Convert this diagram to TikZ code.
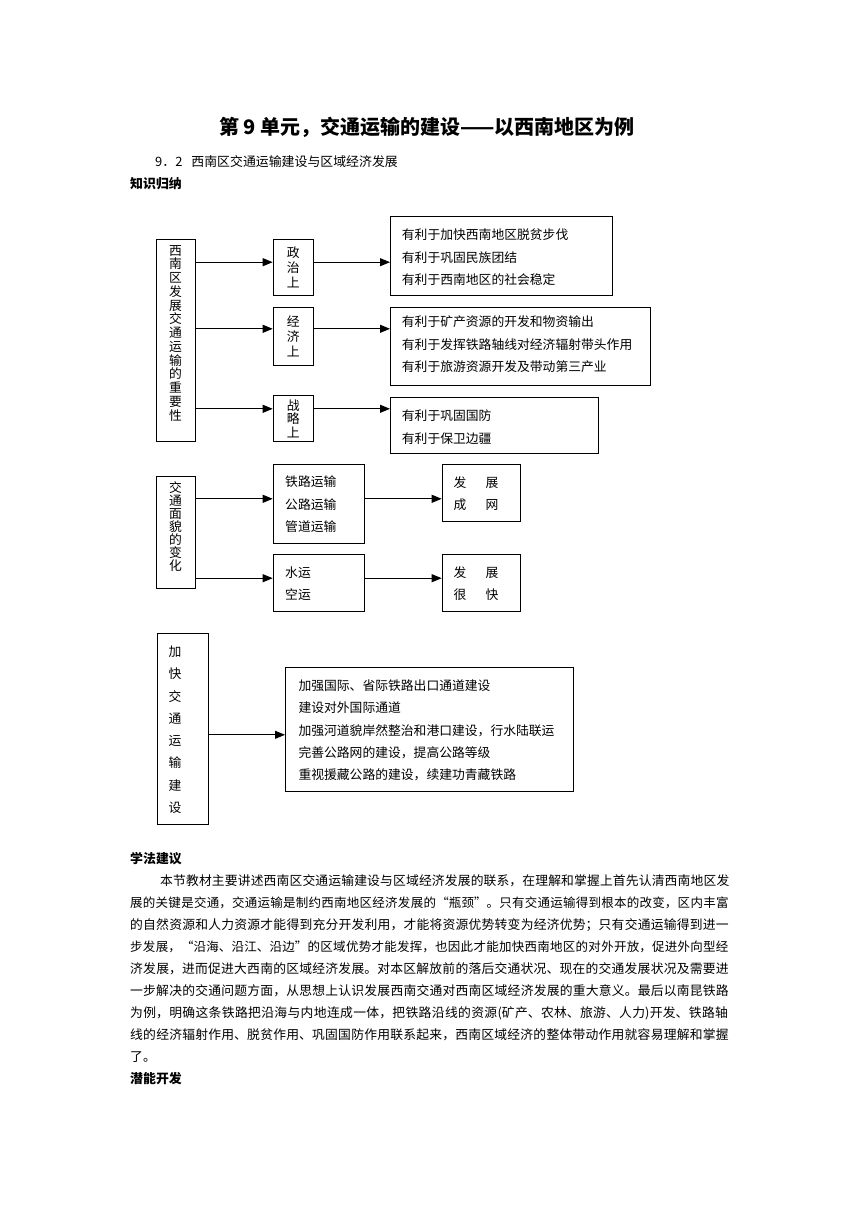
\documentclass[tikz,border=0pt]{standalone}
\usepackage{fontspec}
\setmainfont{Noto Sans CJK SC}
\usetikzlibrary{arrows.meta}
\XeTeXlinebreaklocale "zh"
\XeTeXlinebreakskip=0pt plus 4pt minus 1.2pt
\newcommand{\fz}[2]{\fontsize{#1}{#2}\selectfont}
\newcommand{\jl}[1]{\parindent=0pt\parfillskip=0pt\tolerance=10000\relax #1\par}
\begin{document}
\begin{tikzpicture}[x=1pt,y=-1pt,
  box/.style={draw, line width=1pt, anchor=north west, inner sep=0pt},
  arr/.style={draw, line width=1pt, -{Triangle[length=10pt,width=8pt]}},
  bt/.style={anchor=west, inner sep=0pt, align=left, font=\fz{12.8}{22.5}},
  vt/.style={inner sep=0pt, align=center, font=\fz{12.8}{15}},
  pl/.style={anchor=west, inner sep=0pt, text width=600pt, font=\fz{12.8}{15}},
  hd/.style={anchor=west, inner sep=0pt, font=\bfseries\fz{12.9}{15}},
]
\useasboundingbox (0,0) rectangle (860,1216);
\fill[white] (0,0) rectangle (860,1216);

% headings
\node[inner sep=0pt, font=\bfseries\fz{20}{24}] (title) at (427,127.5) {第 9 单元，交通运输的建设——以西南地区为例};
\node[anchor=west, inner sep=0pt, font=\fz{12.9}{15}] (sub) at (155,161.7) {9．2\hspace{9pt}西南区交通运输建设与区域经济发展};
\node[hd] (h1) at (130,183.3) {知识归纳};

% diagram 1
\node[box, minimum width=39pt, minimum height=201.7pt] (L1) at (156,239.3) {};
\node[vt, font=\fz{12.8}{13.75}] (L1t) at (175.5,333.2) {西\\南\\区\\发\\展\\交\\通\\运\\输\\的\\重\\要\\性};

\node[box, minimum width=40pt, minimum height=55.7pt] (s1) at (272.7,239.3) {};
\node[vt] (s1t) at (s1.center) {政\\治\\上};
\node[box, minimum width=40pt, minimum height=58.3pt] (s2) at (272.7,306.7) {};
\node[vt] (s2t) at (s2.center) {经\\济\\上};
\node[box, minimum width=40pt, minimum height=46pt] (s3) at (272.7,395) {};
\node[vt, font=\fz{12.8}{13.5}] (s3t) at (s3.center) {战\\略\\上};

\node[box, minimum width=221.7pt, minimum height=79pt] (b1) at (390,216) {};
\node[bt] (b1t) at (401.7,257.5) {有利于加快西南地区脱贫步伐\\有利于巩固民族团结\\有利于西南地区的社会稳定};
\node[box, minimum width=260pt, minimum height=78.3pt] (b2) at (390,306.7) {};
\node[bt] (b2t) at (401.7,344.5) {有利于矿产资源的开发和物资输出\\有利于发挥铁路轴线对经济辐射带头作用\\有利于旅游资源开发及带动第三产业};
\node[box, minimum width=208pt, minimum height=56.3pt] (b3) at (390,396.7) {};
\node[bt, font=\fz{12.8}{23}] (b3t) at (401.7,426.7) {有利于巩固国防\\有利于保卫边疆};

\coordinate (a1) at ([yshift=5.45pt]s1.west);
\coordinate (a2) at ([yshift=7.55pt]s2.west);
\coordinate (a3) at ([yshift=9.7pt]s3.west);
\draw[arr] (L1.east |- a1) -- (a1);
\draw[arr] (L1.east |- a2) -- (a2);
\draw[arr] (L1.east |- a3) -- (a3);
\draw[arr] (s1.east |- a1) -- (b1.west |- a1);
\draw[arr] (s2.east |- a2) -- (b2.west |- a2);
\draw[arr] (s3.east |- a3) -- (b3.west |- a3);

% diagram 2
\node[box, minimum width=39pt, minimum height=112.6pt] (L2) at (156,475.7) {};
\node[vt, font=\fz{12.8}{13}] (L2t) at (175.5,526.7) {交\\通\\面\\貌\\的\\变\\化};
\node[box, minimum width=91.3pt, minimum height=79pt] (t1) at (272.7,464.3) {};
\node[bt] (t1t) at (285,504.2) {铁路运输\\公路运输\\管道运输};
\node[box, minimum width=91.3pt, minimum height=56.7pt] (t2) at (272.7,554.3) {};
\node[bt, font=\fz{12.8}{22.7}] (t2t) at (285,583.7) {水运\\空运};
\node[box, minimum width=78.3pt, minimum height=56.4pt] (r1) at (441.7,464.3) {};
\node[bt, font=\fz{12.8}{22}] (r1t) at (453.3,493.3) {发\hspace{19.4pt}展\\成\hspace{19.4pt}网};
\node[box, minimum width=78.3pt, minimum height=56.7pt] (r2) at (441.7,554.3) {};
\node[bt, font=\fz{12.8}{22.7}] (r2t) at (453.3,583.7) {发\hspace{19.4pt}展\\很\hspace{19.4pt}快};

\coordinate (c1) at ([yshift=5.5pt]t1.west);
\coordinate (c2) at ([yshift=4.95pt]t2.west);
\draw[arr] (L2.east |- c1) -- (c1);
\draw[arr] (L2.east |- c2) -- (c2);
\draw[arr] (t1.east |- c1) -- (r1.west |- c1);
\draw[arr] (t2.east |- c2) -- (r2.west |- c2);

% diagram 3
\node[box, minimum width=51.6pt, minimum height=191pt] (L3) at (156.7,633.3) {};
\node[vt, font=\fz{12.8}{22.3}] (L3t) at (175,729.7) {加\\快\\交\\通\\运\\输\\建\\设};
\node[box, minimum width=287.7pt, minimum height=124.3pt] (b4) at (285,666.7) {};
\node[bt, font=\fz{12.8}{22.3}] (b4t) at (298.3,730.3) {加强国际、省际铁路出口通道建设\\建设对外国际通道\\加强河道貌岸然整治和港口建设，行水陆联运\\完善公路网的建设，提高公路等级\\重视援藏公路的建设，续建功青藏铁路};
\coordinate (d1) at ([yshift=-5.45pt]b4.west);
\draw[arr] (L3.east |- d1) -- (d1);

% text
\node[hd] (h2) at (130,858.3) {学法建议};
\node[pl] (p1) at (130,881) {\jl{\hspace*{30pt}本节教材主要讲述西南区交通运输建设与区域经济发展的联系，在理解和掌握上首先认清西南地区发}};
\node[pl, font=\fz{12.5}{15}] (p2) at (130,903) {\jl{展的关键是交通，交通运输是制约西南地区经济发展的“瓶颈”。只有交通运输得到根本的改变，区内丰富}};
\node[pl] (p3) at (130,925) {\jl{的自然资源和人力资源才能得到充分开发利用，才能将资源优势转变为经济优势；只有交通运输得到进一}};
\node[pl, font=\fz{12.5}{15}] (p4) at (130,947) {\jl{步发展，“沿海、沿江、沿边”的区域优势才能发挥，也因此才能加快西南地区的对外开放，促进外向型经}};
\node[pl] (p5) at (130,969) {\jl{济发展，进而促进大西南的区域经济发展。对本区解放前的落后交通状况、现在的交通发展状况及需要进}};
\node[pl] (p6) at (130,991) {\jl{一步解决的交通问题方面，从思想上认识发展西南交通对西南区域经济发展的重大意义。最后以南昆铁路}};
\node[pl] (p7) at (130,1013) {\jl{为例，明确这条铁路把沿海与内地连成一体，把铁路沿线的资源(矿产、农林、旅游、人力)开发、铁路轴}};
\node[pl] (p8) at (130,1035) {\jl{线的经济辐射作用、脱贫作用、巩固国防作用联系起来，西南区域经济的整体带动作用就容易理解和掌握}};
\node[anchor=west, inner sep=0pt, font=\fz{12.8}{15}] (p9) at (130,1057) {了。};
\node[hd] (h3) at (130,1079) {潜能开发};
\end{tikzpicture}
\end{document}
